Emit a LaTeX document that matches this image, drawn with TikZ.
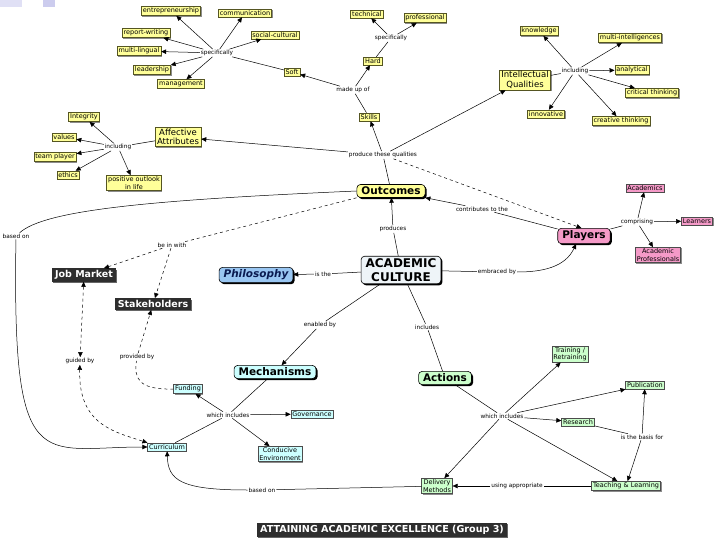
\documentclass[tikz,border=0pt]{standalone}
\usepackage{fontspec}
\setmainfont{DejaVu Sans}
\usetikzlibrary{arrows.meta,shadows}

\definecolor{cmapyellow}{HTML}{FFFF99}
\definecolor{cmapedge}{HTML}{555522}
\definecolor{cmappink}{HTML}{F59AC8}
\definecolor{cmapcyan}{HTML}{CCFFFF}
\definecolor{cmapgreen}{HTML}{CCFFCC}
\definecolor{cmapblue}{HTML}{99C6F2}
\definecolor{cmapnavy}{HTML}{0A1A50}
\definecolor{cmapdark}{HTML}{2E2E2E}
\definecolor{cmapice}{HTML}{EEF4F8}
\definecolor{slideblue}{HTML}{CCCCEE}

\begin{document}
\begin{tikzpicture}[
    x=1pt, y=-1pt,
    >={Triangle[length=5pt,width=4.5pt]},
    line width=0.5pt,
    phrase/.style={fill=white, inner sep=0.8pt, font=\fontsize{5.8}{6.5}\selectfont},
    leaf/.style={draw=cmapedge, inner sep=1.5pt, align=center,
        font=\fontsize{6.5}{7.2}\selectfont,
        drop shadow={shadow xshift=1pt, shadow yshift=-1pt, fill=black!45, opacity=1}},
    yleaf/.style={leaf, fill=cmapyellow},
    bigleaf/.style={yleaf, font=\fontsize{8.5}{9.5}\selectfont, inner xsep=2pt},
    pleaf/.style={leaf, fill=cmappink, draw=black!70},
    cleaf/.style={leaf, fill=cmapcyan, draw=black!70},
    gleaf/.style={leaf, fill=cmapgreen, draw=black!70},
    topic/.style={draw=black, rounded corners=3.5pt, line width=0.6pt,
        inner xsep=4.5pt, inner ysep=2.5pt, align=center,
        font=\fontsize{10.5}{12}\selectfont\bfseries,
        drop shadow={shadow xshift=1.6pt, shadow yshift=-1.6pt, fill=black, opacity=1}},
    darkc/.style={fill=cmapdark, text=white, inner xsep=3pt, inner ysep=2pt,
        font=\fontsize{9.5}{11}\selectfont\bfseries,
        drop shadow={shadow xshift=1.2pt, shadow yshift=-1.2pt, fill=black!60, opacity=1}},
]
\useasboundingbox (0,0) rectangle (720,540);

% slide corner
\fill[slideblue!60] (0,0) rectangle (22,7);
\fill[slideblue] (43,0) rectangle (55,7);

% === SKILLS ===
\node[yleaf] (entre) at (171,11) {entrepreneurship};
\node[yleaf] (comm) at (245,13) {communication};
\node[yleaf] (report) at (146,33) {report-writing};
\node[yleaf] (social) at (275,35) {social-cultural};
\node[yleaf] (multi) at (139,51) {multi-lingual};
\node[yleaf] (leader) at (152,70) {leadership};
\node[yleaf] (manage) at (181,84) {management};
\node[phrase] (specSoft) at (217,53) {specifically};
\node[yleaf] (soft) at (292,72) {Soft};
\node[phrase] (madeup) at (353,90) {made up of};
\node[yleaf] (hard) at (373,61) {Hard};
\node[phrase] (specHard) at (391,38) {specifically};
\node[yleaf] (technical) at (367,14) {technical};
\node[yleaf] (profess) at (425,18) {professional};
\node[yleaf] (skills) at (369,117) {Skills};

\draw (soft) -- (specSoft);
\foreach \leafname in {entre,comm,report,social,multi,leader,manage}
    \draw[->] (specSoft) -- (\leafname);
\draw (skills) -- (madeup);
\draw[->] (madeup) -- (soft);
\draw[->] (madeup) -- (hard);
\draw (hard) -- (specHard);
\draw[->] (specHard) -- (technical);
\draw[->] (specHard) -- (profess);

% === INTELLECTUAL QUALITIES ===
\node[bigleaf] (intel) at (525,80) {Intellectual\\Qualities};
\node[phrase] (inclIntel) at (575,71) {including};
\node[yleaf] (knowledge) at (539,31) {knowledge};
\node[yleaf] (multiint) at (630,38) {multi-intelligences};
\node[yleaf] (analytical) at (632,70) {analytical};
\node[yleaf] (critical) at (652,93) {critical thinking};
\node[yleaf] (innovative) at (546,114) {innovative};
\node[yleaf] (creative) at (621,121) {creative thinking};

\draw (intel) -- (inclIntel);
\foreach \leafname in {knowledge,multiint,analytical,critical,innovative,creative}
    \draw[->] (inclIntel) -- (\leafname);

% === AFFECTIVE ATTRIBUTES ===
\node[bigleaf] (affective) at (178,137) {Affective\\Attributes};
\node[phrase] (inclAff) at (118,147) {including};
\node[yleaf] (integrity) at (84,117) {Integrity};
\node[yleaf] (values) at (64,137) {values};
\node[yleaf] (team) at (55,157) {team player};
\node[yleaf] (ethics) at (68,175) {ethics};
\node[yleaf] (positive) at (134,183) {positive outlook\\in life};

\draw (affective) -- (inclAff);
\foreach \leafname in {integrity,values,team,ethics,positive}
    \draw[->] (inclAff) -- (\leafname);

% === OUTCOMES ===
\node[topic, fill=cmapyellow] (outcomes) at (391,191) {Outcomes};
\node[phrase] (produce) at (383,155) {produce these qualities};

\draw (outcomes) -- (produce);
\draw[->] (produce) -- (skills);
\draw[->] (produce) -- (intel);
\draw[->] (produce) -- (affective);

% === ACADEMIC CULTURE ===
\node[topic, fill=cmapice, font=\fontsize{12}{13.5}\selectfont\bfseries] (culture) at (401,270) {ACADEMIC\\CULTURE};
\node[phrase] (produces) at (393,229) {produces};
\node[topic, fill=cmapblue, text=cmapnavy, font=\fontsize{10.5}{12}\selectfont\bfseries\itshape] (philosophy) at (256,275) {Philosophy};
\node[phrase] (isthe) at (323,274) {is the};

\draw (culture) -- (produces);
\draw[->] (produces) -- (outcomes);
\draw (culture) -- (isthe);
\draw[->] (isthe) -- (philosophy);

% === PLAYERS ===
\node[topic, fill=cmappink] (players) at (584,236) {Players};
\node[phrase] (contrib) at (482,209) {contributes to the};
\node[phrase] (embraced) at (497,272) {embraced by};
\node[phrase] (comprising) at (637,222) {comprising};
\node[pleaf] (academics) at (645,188) {Academics};
\node[pleaf] (learners) at (697,221) {Learners};
\node[pleaf] (acprof) at (658,255) {Academic\\Professionals};

\draw[->, dashed] (produce) -- (players.108);
\draw (players) -- (contrib);
\draw[->] (contrib) -- (outcomes.south east);
\draw (culture) -- (embraced);
\draw[->] (embraced) to[out=0, in=-115] (players.-135);
\draw (players) -- (comprising);
\foreach \leafname in {academics,learners,acprof}
    \draw[->] (comprising) -- (\leafname);

% === STAKEHOLDERS / JOB MARKET ===
\node[phrase] (basedOn) at (16,236) {based on};
\node[phrase] (beInWith) at (172,245) {be in with};
\node[darkc] (jobmarket) at (84,275) {Job Market};
\node[darkc] (stakeholders) at (153,304) {Stakeholders};
\node[phrase] (guided) at (80,361) {guided by};
\node[phrase] (provided) at (137,357) {provided by};

\draw (outcomes.west) .. controls (150,200) and (45,210) .. (basedOn);
\draw[dashed] (outcomes.south west) -- (beInWith);
\draw[->, dashed] (beInWith) -- (jobmarket);
\draw[->, dashed] (beInWith) -- (stakeholders);
\draw[<->, dashed] (jobmarket) -- (guided);
\draw[->, dashed] (provided) -- (stakeholders);

% === MECHANISMS ===
\node[topic, fill=cmapcyan] (mechanisms) at (275,372) {Mechanisms};
\node[phrase] (enabled) at (320,325) {enabled by};
\node[phrase] (whichMech) at (228,415) {which includes};
\node[cleaf] (funding) at (188,389) {Funding};
\node[cleaf] (governance) at (312,414) {Governance};
\node[cleaf] (conducive) at (280,454) {Conducive\\Environment};
\node[cleaf] (curriculum) at (167,447) {Curriculum};

\draw (culture) -- (enabled);
\draw[->] (enabled) -- (mechanisms);
\draw (mechanisms) -- (whichMech);
\draw[->] (whichMech) -- (funding);
\draw[->] (whichMech) -- (governance);
\draw[->] (whichMech) -- (conducive);
\draw (whichMech) -- (curriculum);
\draw[dashed] (funding.west) .. controls (138,390) and (134,378) .. (provided);
\draw[<->, dashed] (guided) .. controls (78,425) and (115,432) .. (curriculum.north west);
\draw[->] (basedOn) .. controls (12,480) and (40,447) .. (curriculum);

% === ACTIONS ===
\node[topic, fill=cmapgreen] (actions) at (445,378) {Actions};
\node[phrase] (includes) at (427,327) {includes};
\node[phrase] (whichAct) at (502,416) {which includes};
\node[gleaf] (training) at (570,354) {Training /\\Retraining};
\node[gleaf] (publication) at (645,385) {Publication};
\node[gleaf] (research) at (578,422) {Research};
\node[phrase] (basis) at (642,437) {is the basis for};
\node[gleaf] (teaching) at (626,486) {Teaching \& Learning};
\node[phrase] (using) at (517,486) {using appropriate};
\node[gleaf] (delivery) at (437,486) {Delivery\\Methods};
\node[phrase] (basedOnLow) at (262,490) {based on};

\draw (culture) -- (includes);
\draw (includes) -- (actions);
\draw (actions) -- (whichAct);
\foreach \leafname in {training,publication,research,teaching,delivery}
    \draw[->] (whichAct) -- (\leafname);
\draw (research) -- (basis);
\draw[->] (basis) -- (publication);
\draw[->] (basis) -- (teaching);
\draw (teaching) -- (using);
\draw[->] (using) -- (delivery);
\draw (delivery) -- (basedOnLow);
\draw[->] (basedOnLow) .. controls (180,490) and (168,480) .. (curriculum);

% === TITLE ===
\node[darkc, font=\fontsize{9.6}{11}\selectfont\bfseries, inner ysep=2.5pt] (title) at (382,530) {ATTAINING ACADEMIC EXCELLENCE (Group 3)};

\end{tikzpicture}
\end{document}
